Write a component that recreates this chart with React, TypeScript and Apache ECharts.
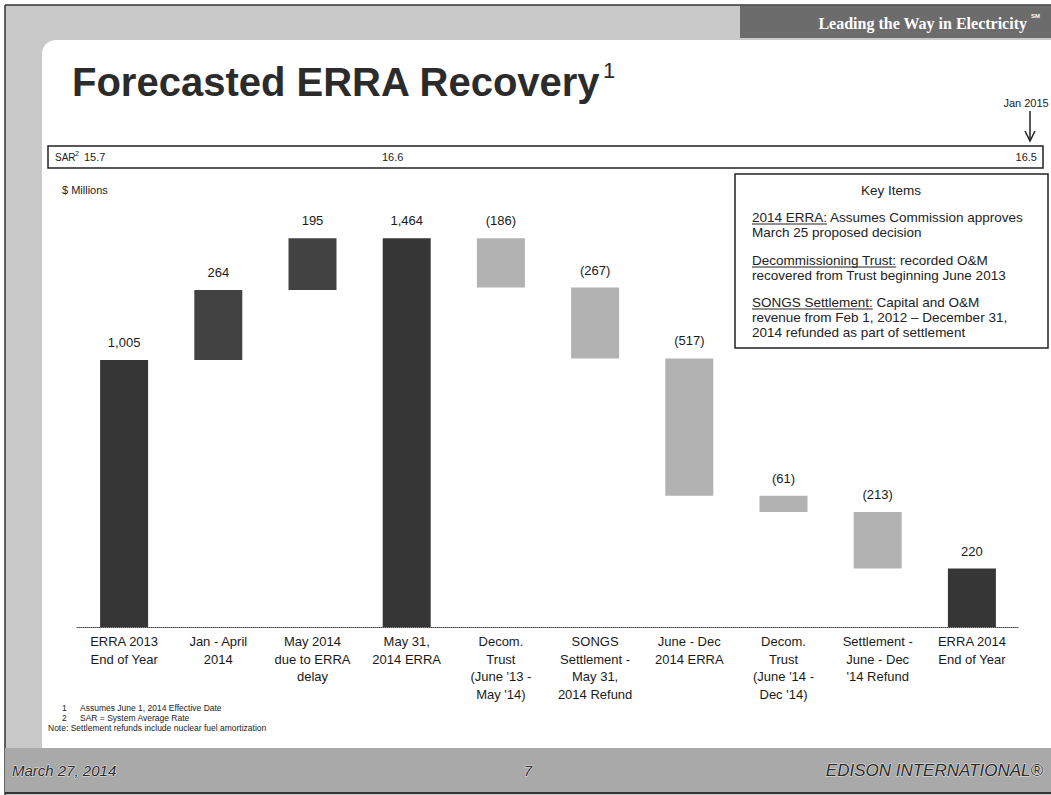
import React, { useEffect, useRef } from "react";
import * as echarts from "echarts";

const categories = [
  "ERRA 2013\nEnd of Year",
  "Jan - April\n2014",
  "May 2014\ndue to ERRA\ndelay",
  "May 31,\n2014 ERRA",
  "Decom.\nTrust\n(June '13 -\nMay '14)",
  "SONGS\nSettlement -\nMay 31,\n2014 Refund",
  "June - Dec\n2014 ERRA",
  "Decom.\nTrust\n(June '14 -\nDec '14)",
  "Settlement -\nJune - Dec\n'14 Refund",
  "ERRA 2014\nEnd of Year",
];
const changes = [1005, 264, 195, 1464, -186, -267, -517, -61, -213, 220];
const kinds = ["total", "delta", "delta", "total", "delta", "delta", "delta", "delta", "delta", "total"];
const sarValues = ["15.7", "16.6", "16.5"];
const keyItemLines = [
  { u: "2014 ERRA:", t: " Assumes Commission approves" },
  { u: "", t: "March 25 proposed decision" },
  { u: "Decommissioning Trust:", t: " recorded O&M" },
  { u: "", t: "recovered from Trust beginning June 2013" },
  { u: "SONGS Settlement:", t: " Capital and O&M" },
  { u: "", t: "revenue from Feb 1, 2012 \u2013 December 31," },
  { u: "", t: "2014 refunded as part of settlement" },
];
const footnotes = [
  { n: "1", t: "Assumes June 1, 2014 Effective Date" },
  { n: "2", t: "SAR = System Average Rate" },
];
const noteText = "Note: Settlement refunds include nuclear fuel amortization";

const SANS = "'Liberation Sans', Arial, Helvetica, sans-serif";
const SERIF = "'Liberation Serif', 'Times New Roman', serif";

function fmt(v: number) {
  const s = Math.abs(v).toLocaleString("en-US");
  return v < 0 ? `(${s})` : s;
}

function measure(str: string, font: string) {
  const c = document.createElement("canvas").getContext("2d")!;
  c.font = font;
  return c.measureText(str).width;
}

export default function App() {
  const ref = useRef<HTMLDivElement>(null);
  useEffect(() => {
    if (!ref.current) return;
    const chart = echarts.init(ref.current, null, { renderer: "svg" });

    const bases: number[] = [];
    const visible: { value: number; itemStyle: { color: string } }[] = [];
    let running = 0;
    changes.forEach((v, i) => {
      if (kinds[i] === "total") {
        bases.push(0);
        running = v;
        visible.push({ value: v, itemStyle: { color: "#363636" } });
      } else if (v >= 0) {
        bases.push(running);
        running += v;
        visible.push({ value: v, itemStyle: { color: "#424242" } });
      } else {
        running += v;
        bases.push(running);
        visible.push({ value: -v, itemStyle: { color: "#b2b2b2" } });
      }
    });

    const titleText = "Forecasted ERRA Recovery";
    const titleFont = `bold 40px ${SANS}`;
    const titleW = measure(titleText, titleFont);

    const keyFontSize = 13.5;
    const keyFont = `${keyFontSize}px ${SANS}`;
    const keyYs = [217, 232, 260, 275, 302, 317, 332];
    const keyX = 752;

    const graphics: any[] = [
      // outer gray frame
      { type: "rect", shape: { x: 5, y: 5, width: 1046, height: 790 }, style: { fill: "#c9c9c9" }, z: -5 },
      { type: "line", shape: { x1: 5, y1: 5, x2: 1051, y2: 5 }, style: { stroke: "#333", lineWidth: 1.5 }, z: -4 },
      { type: "line", shape: { x1: 5, y1: 5, x2: 5, y2: 795 }, style: { stroke: "#333", lineWidth: 1.5 }, z: -4 },
      // white content area
      { type: "rect", shape: { x: 42, y: 40, width: 1009, height: 708, r: [14, 0, 0, 0] }, style: { fill: "#ffffff" }, z: -4 },
      // top-right dark band
      { type: "rect", shape: { x: 740, y: 6, width: 311, height: 32 }, style: { fill: "#6c6c6c" }, z: -3 },
      {
        type: "text", x: 1027, y: 23, z: 5,
        style: { text: "Leading the Way in Electricity", fill: "#ffffff", font: `bold 16px ${SERIF}`, align: "right", verticalAlign: "middle" },
      },
      {
        type: "text", x: 1031, y: 16, z: 5,
        style: { text: "SM", fill: "#ffffff", font: `bold 6px ${SANS}`, align: "left", verticalAlign: "middle" },
      },
      // footer band
      { type: "rect", shape: { x: 5, y: 748, width: 1046, height: 44 }, style: { fill: "#a9a9a9" }, z: -3 },
      { type: "line", shape: { x1: 5, y1: 793, x2: 1051, y2: 793 }, style: { stroke: "#333", lineWidth: 2 }, z: -2 },
      {
        type: "text", x: 12, y: 770, z: 5,
        style: { text: "March 27, 2014", fill: "#2a2a2a", font: `italic 15px ${SANS}`, align: "left", verticalAlign: "middle", stroke: "#e8e8e8", lineWidth: 1 },
      },
      {
        type: "text", x: 528, y: 770, z: 5,
        style: { text: "7", fill: "#2a2a2a", font: `italic 15px ${SANS}`, align: "center", verticalAlign: "middle", stroke: "#e8e8e8", lineWidth: 1 },
      },
      {
        type: "text", x: 1043, y: 770, z: 5,
        style: { text: "EDISON INTERNATIONAL\u00AE", fill: "#2a2a2a", font: `italic 17px ${SANS}`, align: "right", verticalAlign: "middle", stroke: "#e8e8e8", lineWidth: 1 },
      },
      // title
      {
        type: "text", x: 72, y: 82, z: 5,
        style: { text: titleText, fill: "#2b2b2b", font: titleFont, align: "left", verticalAlign: "middle" },
      },
      {
        type: "text", x: 72 + titleW + 2, y: 70, z: 5,
        style: { text: "1", fill: "#2b2b2b", font: `22px ${SANS}`, align: "left", verticalAlign: "middle" },
      },
      // Jan 2015 arrow
      {
        type: "text", x: 1026, y: 103, z: 5,
        style: { text: "Jan 2015", fill: "#222", font: `11px ${SANS}`, align: "center", verticalAlign: "middle" },
      },
      { type: "line", shape: { x1: 1030, y1: 111, x2: 1030, y2: 139 }, style: { stroke: "#222", lineWidth: 1.5 }, z: 5 },
      { type: "polyline", shape: { points: [[1025, 131], [1030, 141], [1035, 131]] }, style: { stroke: "#222", lineWidth: 1.5, fill: null }, z: 5 },
      // SAR box
      { type: "rect", shape: { x: 48, y: 146, width: 995, height: 22 }, style: { fill: "none", stroke: "#222", lineWidth: 1.5 }, z: 4 },
      {
        type: "text", x: 55, y: 157, z: 5,
        style: { text: "SAR", fill: "#222", font: `10px ${SANS}`, align: "left", verticalAlign: "middle" },
      },
      {
        type: "text", x: 75, y: 153, z: 5,
        style: { text: "2", fill: "#222", font: `7px ${SANS}`, align: "left", verticalAlign: "middle" },
      },
      {
        type: "text", x: 84, y: 157, z: 5,
        style: { text: sarValues[0], fill: "#222", font: `11px ${SANS}`, align: "left", verticalAlign: "middle" },
      },
      {
        type: "text", x: 382, y: 157, z: 5,
        style: { text: sarValues[1], fill: "#222", font: `11px ${SANS}`, align: "left", verticalAlign: "middle" },
      },
      {
        type: "text", x: 1037, y: 157, z: 5,
        style: { text: sarValues[2], fill: "#222", font: `11px ${SANS}`, align: "right", verticalAlign: "middle" },
      },
      // $ Millions
      {
        type: "text", x: 62, y: 190, z: 5,
        style: { text: "$ Millions", fill: "#222", font: `11px ${SANS}`, align: "left", verticalAlign: "middle" },
      },
      // Key items box
      { type: "rect", shape: { x: 735, y: 174, width: 313, height: 174 }, style: { fill: "#ffffff", stroke: "#222", lineWidth: 1.5 }, z: 4 },
      {
        type: "text", x: 891, y: 190, z: 5,
        style: { text: "Key Items", fill: "#222", font: keyFont, align: "center", verticalAlign: "middle" },
      },
      // footnotes
      ...footnotes.flatMap((f, i) => [
        { type: "text", x: 62, y: 708 + i * 10, z: 5, style: { text: f.n, fill: "#222", font: `8.5px ${SANS}`, align: "left", verticalAlign: "middle" } },
        { type: "text", x: 80, y: 708 + i * 10, z: 5, style: { text: f.t, fill: "#222", font: `8.5px ${SANS}`, align: "left", verticalAlign: "middle" } },
      ]),
      { type: "text", x: 48, y: 728, z: 5, style: { text: noteText, fill: "#222", font: `8.5px ${SANS}`, align: "left", verticalAlign: "middle" } },
    ];

    keyItemLines.forEach((ln, i) => {
      const y = keyYs[i];
      let x = keyX;
      if (ln.u) {
        const w = measure(ln.u, keyFont);
        graphics.push({
          type: "text", x, y, z: 5,
          style: { text: ln.u, fill: "#222", font: keyFont, align: "left", verticalAlign: "middle" },
        });
        graphics.push({
          type: "line", shape: { x1: x, y1: y + 7, x2: x + w, y2: y + 7 }, style: { stroke: "#222", lineWidth: 1 }, z: 5,
        });
        x += w;
      }
      graphics.push({
        type: "text", x, y, z: 5,
        style: { text: ln.t, fill: "#222", font: keyFont, align: "left", verticalAlign: "middle" },
      });
    });

    chart.setOption({
      animation: false,
      backgroundColor: "#ffffff",
      grid: { left: 77, right: 32, top: 202, bottom: 168, containLabel: false },
      xAxis: {
        type: "category",
        data: categories,
        axisTick: { show: false },
        axisLine: { show: true, lineStyle: { type: "dotted", color: "#444", width: 1 } },
        axisLabel: {
          interval: 0,
          fontFamily: SANS,
          fontSize: 13,
          lineHeight: 17.5,
          color: "#1a1a1a",
          margin: 6,
          align: "center",
        },
      },
      yAxis: { type: "value", min: 0, max: 1600, show: false, splitLine: { show: false } },
      series: [
        {
          type: "bar",
          stack: "wf",
          data: bases,
          barWidth: 48,
          itemStyle: { color: "transparent" },
          emphasis: { disabled: true },
          silent: true,
        },
        {
          type: "bar",
          stack: "wf",
          data: visible,
          barWidth: 48,
          label: {
            show: true,
            position: "top",
            distance: 11,
            fontFamily: SANS,
            fontSize: 13,
            color: "#1a1a1a",
            formatter: (p: any) => fmt(changes[p.dataIndex]),
          },
        },
      ],
      graphic: { elements: graphics },
    });

    return () => chart.dispose();
  }, []);

  return <div ref={ref} style={{ position: "absolute", left: 0, top: 0, width: 1051, height: 795 }} />;
}
